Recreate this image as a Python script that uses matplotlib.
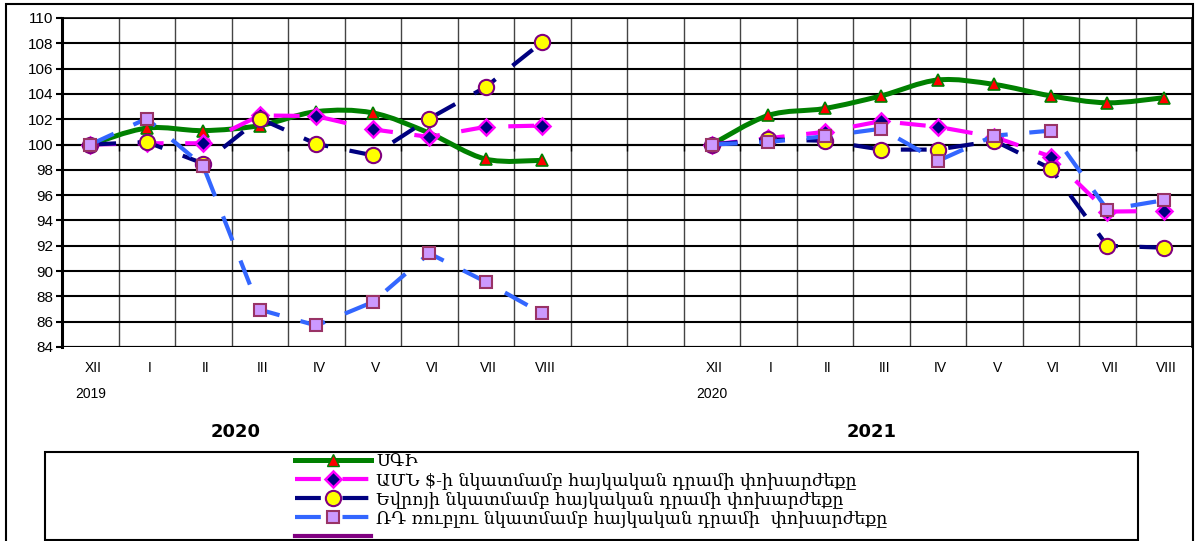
import numpy as np
import matplotlib
matplotlib.use("Agg")
from matplotlib import pyplot as plt
from matplotlib.path import Path
from matplotlib.patches import PathPatch, Rectangle
from matplotlib.lines import Line2D

# categories: XII..VIII of each year, two empty slots between the years
months = ['XII', 'I', 'II', 'III', 'IV', 'V', 'VI', 'VII', 'VIII']
gap_slots = 2
base_years = ['2019', '2020']
panel_titles = ['2020', '2021']

# 2020 (Dec 2019 = 100)
cpi_2020 = [100.0, 101.3, 101.1, 101.5, 102.6, 102.5, 100.9, 98.85, 98.75]
usd_2020 = [100.0, 100.1, 100.1, 102.3, 102.25, 101.2, 100.6, 101.4, 101.5]
eur_2020 = [100.0, 100.2, 98.5, 102.05, 100.05, 99.15, 102.05, 104.55, 108.1]
rub_2020 = [100.0, 102.05, 98.3, 86.95, 85.7, 87.55, 91.4, 89.15, 86.65]

# 2021 (Dec 2020 = 100)
cpi_2021 = [100.0, 102.3, 102.85, 103.85, 105.1, 104.75, 103.85, 103.3, 103.7]
usd_2021 = [100.0, 100.5, 101.0, 101.85, 101.4, 100.6, 99.05, 94.7, 94.75]
eur_2021 = [100.0, 100.4, 100.3, 99.6, 99.6, 100.3, 98.1, 92.0, 91.85]
rub_2021 = [100.0, 100.2, 100.65, 101.25, 98.7, 100.7, 101.1, 94.85, 95.6]

legend_labels = [
    'ՍԳԻ',
    'ԱՄՆ $-ի նկատմամբ հայկական դրամի փոխարժեքը',
    'Եվրոյի նկատմամբ հայկական դրամի փոխարժեքը',
    'ՌԴ ռուբլու նկատմամբ հայկական դրամի  փոխարժեքը',
]

W, H = 1196, 541
plt.rcParams['font.family'] = ['Liberation Sans', 'DejaVu Sans']


def smooth_path(xs, ys):
    # bezier path through the points, like excel's smoothed line
    pts = np.column_stack([xs, ys]).astype(float)
    n = len(pts)
    verts = [pts[0]]
    codes = [Path.MOVETO]
    for i in range(n - 1):
        p0 = pts[i - 1] if i > 0 else pts[i]
        p1 = pts[i]
        p2 = pts[i + 1]
        p3 = pts[i + 2] if i + 2 < n else pts[i + 1]
        c1 = p1 + (p2 - p0) / 6.0
        c2 = p2 - (p3 - p1) / 6.0
        verts += [c1, c2, p2]
        codes += [Path.CURVE4] * 3
    return Path(verts, codes)


fig = plt.figure(figsize=(W / 100, H / 100), dpi=100)
ax = fig.add_axes([62 / W, 1 - 347 / H, (1192 - 62) / W, (347 - 18) / H])

n_cat = 2 * len(months) + gap_slots
x_2020 = np.arange(len(months))
x_2021 = np.arange(len(months)) + len(months) + gap_slots

green = '#008000'
magenta = '#FF00FF'
navy = '#000080'
blue = '#3366FF'
dash = (0, (6.2, 5.2))
lw = 3.0
lw_cpi = 3.6

for xs, cpi, usd, eur, rub in [(x_2020, cpi_2020, usd_2020, eur_2020, rub_2020),
                               (x_2021, cpi_2021, usd_2021, eur_2021, rub_2021)]:
    ax.add_patch(PathPatch(smooth_path(xs, cpi), fill=False, edgecolor=green,
                           lw=lw_cpi, capstyle='round', joinstyle='round', zorder=3))
    ax.plot(xs, cpi, ls='none', marker='^', ms=8, mfc='#FF0000', mec=green,
            mew=1.2, zorder=4)
    ax.plot(xs, usd, color=magenta, lw=lw, ls=dash, marker='D', ms=8.5,
            mfc=navy, mec=magenta, mew=1.8, zorder=5)
    ax.plot(xs, eur, color=navy, lw=lw, ls=dash, marker='o', ms=11,
            mfc='#FFFF00', mec='#800080', mew=1.5, zorder=6)
    ax.plot(xs, rub, color=blue, lw=lw, ls=dash, marker='s', ms=8.5,
            mfc='#CC99FF', mec='#993366', mew=1.5, zorder=7)

ax.set_xlim(-0.5, n_cat - 0.5)
ax.set_ylim(84, 110)
ax.set_yticks(np.arange(84, 111, 2))
ax.set_xticks(np.arange(n_cat - 1) + 0.5)
ax.grid(axis='y', color='black', lw=1.5, zorder=1)
ax.grid(axis='x', color='#444444', lw=1.0, zorder=1)
ax.tick_params(axis='y', labelsize=11, length=4, width=1.5, direction='out', pad=2)
ax.tick_params(axis='x', labelbottom=False, length=4, width=1, direction='out')
ax.spines['bottom'].set_position(('data', 100))
ax.spines['bottom'].set_linewidth(1.5)
ax.spines['left'].set_linewidth(2.2)
for s in ['top', 'right']:
    ax.spines[s].set_linewidth(1.2)
ax.axhline(84, color='black', lw=1.5, zorder=2)

# category labels below the plot area
trans = ax.get_xaxis_transform()
for xs, yr in [(x_2020, base_years[0]), (x_2021, base_years[1])]:
    for xi, m in zip(xs, months):
        ax.text(xi + 0.05, -0.064, m, transform=trans, ha='center', va='center',
                fontsize=10)
    ax.text(xs[0], -0.143, yr, transform=trans, ha='center', va='center',
            fontsize=10)

fig.text(236 / W, 1 - 432 / H, panel_titles[0], ha='center', va='center',
         fontsize=13, fontweight='bold', family='DejaVu Sans')
fig.text(872 / W, 1 - 432 / H, panel_titles[1], ha='center', va='center',
         fontsize=13, fontweight='bold', family='DejaVu Sans')

# outer frame and legend box
fig.patches.append(Rectangle((6 / W, -0.02), (1193 - 6) / W, 1 - 4 / H + 0.02,
                             transform=fig.transFigure, fill=False,
                             edgecolor='black', lw=1.5))
fig.patches.append(Rectangle((45 / W, 1 - 540 / H), (1138 - 45) / W,
                             (540 - 452) / H, transform=fig.transFigure,
                             fill=False, edgecolor='black', lw=1.5))

handles = [
    Line2D([], [], color=green, lw=lw_cpi, marker='^', ms=8, mfc='#FF0000', mec=green),
    Line2D([], [], color=magenta, lw=lw, ls=dash, marker='D', ms=8.5, mfc=navy,
           mec=magenta, mew=1.8),
    Line2D([], [], color=navy, lw=lw, ls=dash, marker='o', ms=11, mfc='#FFFF00',
           mec='#800080', mew=1.5),
    Line2D([], [], color=blue, lw=lw, ls=dash, marker='s', ms=8.5, mfc='#CC99FF',
           mec='#993366', mew=1.5),
    Line2D([], [], color='#800080', lw=lw),
]
fig.legend(handles, legend_labels + [''], loc='upper left',
           bbox_to_anchor=(292 / W, 1 - 450 / H), frameon=False,
           prop={'family': ['DejaVu Serif', 'DejaVu Sans'], 'size': 12.5},
           handlelength=4.4, handleheight=0.7, handletextpad=0.3,
           labelspacing=0.12, borderpad=0.15, borderaxespad=0)

fig.savefig('out.png', dpi=100)
